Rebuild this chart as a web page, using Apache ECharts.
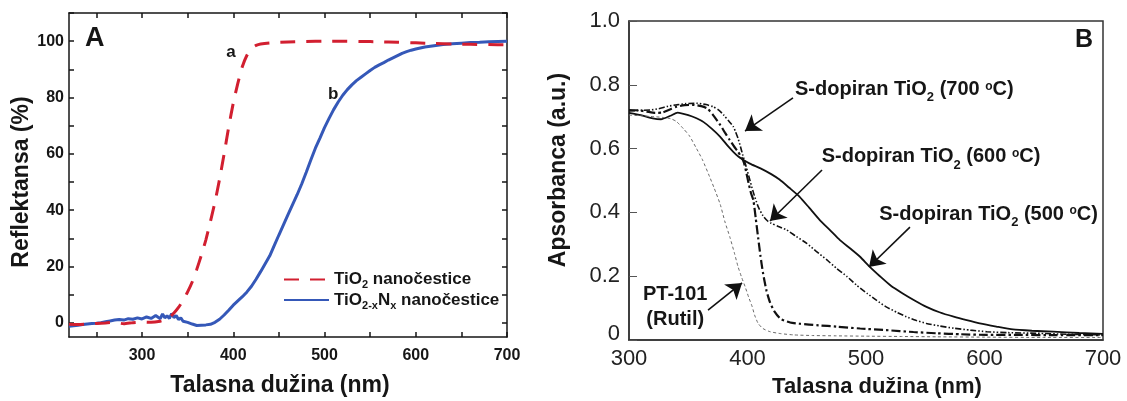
<!DOCTYPE html>
<html>
<head>
<meta charset="utf-8">
<title>Reflektansa i apsorbanca TiO2</title>
<script src="https://cdn.jsdelivr.net/npm/echarts@6/dist/echarts.min.js"></script>
<style>
  html, body { margin: 0; padding: 0; background: #fff; }
  #chart { width: 1127px; height: 401px; }
</style>
</head>
<body>
<div id="chart"></div>
<script>
// Panel A: diffuse reflectance (%) vs wavelength (nm)
const tio2Nm = [220,230,240,250,260,270,280,290,300,310,320,325,330,335,340,345,350,355,360,365,370,375,380,385,390,395,400,405,410,415,420,425,430,440,460,480,500,520,540,560,580,600,620,640,660,680,700];
const tio2R  = [-0.5,-0.6,-0.4,-0.2,0.0,0.2,-0.3,0.1,0.3,0.2,0.6,1.1,2.0,3.5,5.5,8.0,11.0,14.5,19.0,24.0,29.5,36.0,43.0,51.0,60.0,69.5,78.0,85.0,91.0,95.0,97.5,98.5,99.0,99.4,99.7,99.9,100.0,100.0,99.9,99.8,99.6,99.4,99.2,99.0,98.9,98.8,98.7];

const tionNm = [220,225,230,235,240,245,250,255,260,265,270,275,280,285,290,295,300,305,310,315,320,322.5,325,327.5,330,332.5,335,337.5,340,342.5,345,350,355,360,365,370,375,380,385,390,395,400,405,410,415,420,425,430,435,440,445,450,455,460,465,470,475,480,485,490,495,500,505,510,515,520,525,530,535,540,545,550,555,560,565,570,575,580,585,590,595,600,610,620,630,640,650,660,670,680,690,700];
const tionR  = [-1.2,-1.0,-0.8,-0.6,-0.4,-0.2,-0.1,0.1,0.4,0.7,1.0,1.2,1.0,1.5,1.3,1.8,1.4,2.1,1.6,2.6,1.5,3.2,1.8,2.5,1.6,3.3,1.9,2.6,1.2,1.8,0.6,0.2,-0.4,-0.9,-0.8,-0.7,-0.5,0.2,1.3,2.8,4.5,6.3,7.8,9.3,11.0,13.0,15.5,18.2,21.0,23.8,27.5,31.2,34.8,38.4,42.0,45.5,49.3,53.5,57.8,62.0,65.6,69.3,72.6,75.7,78.4,80.8,82.8,84.5,86.0,87.2,88.4,89.6,90.7,91.6,92.4,93.3,94.1,94.9,95.7,96.3,96.8,97.2,97.9,98.4,98.8,99.1,99.3,99.5,99.6,99.8,99.9,100.0];

const aTickNm   = [250,300,350,400,450,500,550,600,650,700];
const aLabelNm  = [300,400,500,600,700];
const aTickR    = [0,10,20,30,40,50,60,70,80,90,100,110];
const aLabelR   = [0,20,40,60,80,100];

// Panel B: absorbance (a.u.) vs wavelength (nm)
const s500Nm = [300,310,320,327,335,341,350,357,363,370,377,383,388,392,396,402,411,420,427,435,444,452,461,470,478,487,495,503,512,521,531,541,551,562,574,585,596,610,624,640,658,680,700];
const s500A  = [0.712,0.705,0.695,0.692,0.703,0.713,0.705,0.695,0.683,0.662,0.637,0.610,0.590,0.576,0.566,0.553,0.538,0.520,0.503,0.478,0.449,0.415,0.376,0.343,0.313,0.286,0.261,0.230,0.199,0.170,0.146,0.124,0.104,0.087,0.073,0.062,0.052,0.042,0.033,0.029,0.026,0.022,0.019];

const s600Nm = [300,310,318,325,333,340,348,357,365,371,376,380,384,388,390,392,394,396,398,401,405,409,413,417,420,426,433,441,450,458,467,475,484,492,501,509,517,526,534,542,551,562,574,588,602,620,644,670,700];
const s600A  = [0.718,0.720,0.721,0.725,0.733,0.737,0.741,0.742,0.738,0.731,0.720,0.705,0.687,0.669,0.652,0.632,0.607,0.580,0.555,0.515,0.462,0.418,0.390,0.373,0.366,0.356,0.345,0.325,0.303,0.278,0.251,0.225,0.199,0.172,0.146,0.124,0.104,0.087,0.073,0.062,0.052,0.044,0.037,0.031,0.026,0.023,0.021,0.018,0.016];

const s700Nm = [300,308,315,322,328,334,340,347,354,361,366,371,377,381,385,389,392,395,397,399,401,403,405,407,409,411,413,416,419,423,428,436,444,460,475,495,517,540,560,580,602,630,660,700];
const s700A  = [0.721,0.720,0.716,0.712,0.713,0.722,0.731,0.736,0.737,0.733,0.726,0.705,0.674,0.650,0.627,0.605,0.590,0.572,0.556,0.525,0.490,0.460,0.437,0.380,0.320,0.262,0.212,0.155,0.118,0.088,0.066,0.055,0.051,0.046,0.042,0.036,0.031,0.025,0.021,0.018,0.016,0.016,0.015,0.015];

const ptNm = [300,310,321,328,335,340,346,351,357,362,368,372,377,381,385,389,392,395,398,401,404,406,409,413,419,428,439,455,475,500,530,560,600,650,700];
const ptA  = [0.705,0.703,0.700,0.698,0.694,0.685,0.662,0.640,0.600,0.565,0.512,0.475,0.425,0.370,0.324,0.272,0.230,0.197,0.167,0.134,0.104,0.078,0.052,0.036,0.026,0.020,0.016,0.014,0.013,0.012,0.011,0.010,0.009,0.008,0.008];

const FONT = "'Liberation Sans', Arial, Helvetica, sans-serif";
const INK = '#161616';

const zip = (xs, ys) => xs.map((x, i) => [x, ys[i]]);

// rich styles: t = body text, s = subscript, o = small raised "o" of "°C"
const boldRich = (size, subSize, lh) => ({
  t: { fontFamily: FONT, fontWeight: 'bold', fontSize: size, color: INK, lineHeight: lh },
  s: { fontFamily: FONT, fontWeight: 'bold', fontSize: subSize, color: INK, lineHeight: subSize, verticalAlign: 'bottom' },
  o: { fontFamily: FONT, fontWeight: 'bold', fontSize: subSize - 1, color: INK, lineHeight: subSize, verticalAlign: 'top', padding: [6, 0, 0, 0] }
});

const chart = echarts.init(document.getElementById('chart'), null, { renderer: 'canvas' });

const frameA = { show: true, onZero: false, lineStyle: { color: INK, width: 1.5 } };
const tickA = (vals) => ({ show: true, inside: true, length: 5, lineStyle: { color: INK, width: 1.5 }, customValues: vals });

const dopedLabel = (nm, a, temp) => ({
  coord: [nm, a],
  label: {
    show: true, position: 'right', distance: 0,
    formatter: '{t|S-dopiran TiO}{s|2}{t| (' + temp + ' }{o|o}{t|C)}',
    rich: boldRich(20, 13, 30)
  }
});

const option = {
  animation: false,
  backgroundColor: '#fff',
  grid: [
    { left: 69, right: 620, top: 13, bottom: 64 },
    { left: 629, right: 24, top: 21, bottom: 61, show: true, borderColor: '#333', borderWidth: 1.5, backgroundColor: 'transparent' }
  ],
  xAxis: [
    { gridIndex: 0, type: 'value', min: 220, max: 700, position: 'bottom',
      axisLine: frameA, axisTick: tickA(aTickNm), splitLine: { show: false },
      axisLabel: { customValues: aLabelNm, margin: 11, color: INK, fontFamily: FONT, fontWeight: 'bold', fontSize: 16 } },
    { gridIndex: 0, type: 'value', min: 220, max: 700, position: 'top',
      axisLine: frameA, axisTick: tickA(aTickNm), splitLine: { show: false }, axisLabel: { show: false } },
    { gridIndex: 1, type: 'value', min: 300, max: 700, interval: 100,
      axisLine: { show: true, onZero: false, lineStyle: { color: '#333', width: 1.5 } },
      axisTick: { show: false }, splitLine: { show: false },
      axisLabel: { margin: 8, color: '#222', fontFamily: FONT, fontSize: 22 } }
  ],
  yAxis: [
    { gridIndex: 0, type: 'value', min: -5, max: 110, position: 'left',
      axisLine: frameA, axisTick: tickA(aTickR), splitLine: { show: false },
      axisLabel: { customValues: aLabelR, margin: 5, color: INK, fontFamily: FONT, fontWeight: 'bold', fontSize: 16 } },
    { gridIndex: 0, type: 'value', min: -5, max: 110, position: 'right',
      axisLine: frameA, axisTick: tickA(aTickR), splitLine: { show: false }, axisLabel: { show: false } },
    { gridIndex: 1, type: 'value', min: 0, max: 1.0, interval: 0.2,
      axisLine: { show: true, onZero: false, lineStyle: { color: '#333', width: 1.5 } },
      axisTick: { show: true, inside: true, length: 8, lineStyle: { color: '#555', width: 1 } },
      splitLine: { show: false },
      axisLabel: {
        margin: 9, color: '#222', fontFamily: FONT, fontSize: 22,
        formatter: v => (v === 0 ? '{z|0}' : v.toFixed(1)),
        rich: { z: { fontFamily: FONT, fontSize: 22, color: '#222', padding: [0, 0, 12, 0] } }
      } }
  ],
  legend: {
    left: 283, top: 271, orient: 'vertical', padding: 0,
    itemWidth: 45, itemHeight: 14, itemGap: 1, selectedMode: false,
    itemStyle: { color: 'rgba(0,0,0,0)', borderColor: 'rgba(0,0,0,0)', borderWidth: 0 },
    data: ['TiO2', 'TiO2-xNx'],
    formatter: name => name === 'TiO2'
      ? '{t|TiO}{s|2}{t| nanočestice}'
      : '{t|TiO}{s|2-x}{t|N}{s|x}{t| nanočestice}',
    textStyle: { rich: boldRich(17, 11, 22) }
  },
  series: [
    { name: 'TiO2', type: 'line', xAxisIndex: 0, yAxisIndex: 0, data: zip(tio2Nm, tio2R),
      symbol: 'none', smooth: 0.2, z: 3,
      lineStyle: { color: '#d21f30', width: 3, type: [15, 11] }, itemStyle: { color: '#d21f30' },
      markPoint: {
        symbol: 'circle', symbolSize: 0, silent: true,
        label: { show: true, position: 'inside', fontFamily: FONT, fontWeight: 'bold', fontSize: 17, color: INK },
        data: [
          { coord: [397.5, 96], label: { formatter: 'a' } },
          { coord: [509.5, 81], label: { formatter: 'b' } }
        ]
      } },
    { name: 'TiO2-xNx', type: 'line', xAxisIndex: 0, yAxisIndex: 0, data: zip(tionNm, tionR),
      symbol: 'none', z: 2,
      lineStyle: { color: '#3558b8', width: 3 }, itemStyle: { color: '#3558b8' } },

    { name: 'S 500', type: 'line', xAxisIndex: 2, yAxisIndex: 2, data: zip(s500Nm, s500A),
      symbol: 'none', smooth: 0.2,
      lineStyle: { color: '#111', width: 1.8 },
      markLine: {
        silent: true, symbol: ['none', 'arrow'], symbolSize: 15,
        label: { show: false },
        lineStyle: { color: '#111', width: 1.6, type: 'solid' },
        data: [
          [{ coord: [438.4, 0.759] }, { coord: [397.9, 0.655] }],
          [{ coord: [462.9, 0.533] }, { coord: [419.0, 0.373] }],
          [{ coord: [537.1, 0.354] }, { coord: [502.5, 0.229] }],
          [{ coord: [366.7, 0.094] }, { coord: [395.4, 0.179] }]
        ]
      },
      markPoint: {
        symbol: 'circle', symbolSize: 0, silent: true,
        data: [
          dopedLabel(440.1, 0.786, 700),
          dopedLabel(462.6, 0.575, 600),
          dopedLabel(511.2, 0.395, 500),
          { coord: [339, 0.102],
            label: { show: true, position: 'inside', formatter: 'PT-101\n(Rutil)', align: 'center',
                     fontFamily: FONT, fontWeight: 'bold', fontSize: 20, lineHeight: 25, color: INK } }
        ]
      } },
    { name: 'S 600', type: 'line', xAxisIndex: 2, yAxisIndex: 2, data: zip(s600Nm, s600A),
      symbol: 'none', smooth: 0.2,
      lineStyle: { color: '#111', width: 1.6, type: [6, 2, 1.5, 2, 1.5, 2] } },
    { name: 'S 700', type: 'line', xAxisIndex: 2, yAxisIndex: 2, data: zip(s700Nm, s700A),
      symbol: 'none', smooth: 0.2,
      lineStyle: { color: '#111', width: 2.2, type: [9, 3, 2.5, 3] } },
    { name: 'PT-101', type: 'line', xAxisIndex: 2, yAxisIndex: 2, data: zip(ptNm, ptA),
      symbol: 'none', smooth: 0.2,
      lineStyle: { color: '#6a6a6a', width: 1, type: [3, 2.5] } }
  ],
  graphic: [
    { type: 'text', x: 85, y: 39, silent: true,
      style: { text: 'A', x: 0, y: 0, align: 'left', verticalAlign: 'middle', font: 'bold 27px ' + FONT, fill: INK } },
    { type: 'text', x: 1093, y: 40, silent: true,
      style: { text: 'B', x: 0, y: 0, align: 'right', verticalAlign: 'middle', font: 'bold 25px ' + FONT, fill: INK } },
    { type: 'text', x: 280, y: 386, silent: true,
      style: { text: 'Talasna dužina (nm)', x: 0, y: 0, align: 'center', verticalAlign: 'middle', font: 'bold 23px ' + FONT, fill: INK } },
    { type: 'text', x: 22, y: 182, rotation: Math.PI / 2, silent: true,
      style: { text: 'Reflektansa (%)', x: 0, y: 0, align: 'center', verticalAlign: 'middle', font: 'bold 23px ' + FONT, fill: INK } },
    { type: 'text', x: 877, y: 387, silent: true,
      style: { text: 'Talasna dužina (nm)', x: 0, y: 0, align: 'center', verticalAlign: 'middle', font: 'bold 22px ' + FONT, fill: INK } },
    { type: 'text', x: 559, y: 170, rotation: Math.PI / 2, silent: true,
      style: { text: 'Apsorbanca (a.u.)', x: 0, y: 0, align: 'center', verticalAlign: 'middle', font: 'bold 23px ' + FONT, fill: INK } }
  ]
};

chart.setOption(option);
</script>
</body>
</html>
